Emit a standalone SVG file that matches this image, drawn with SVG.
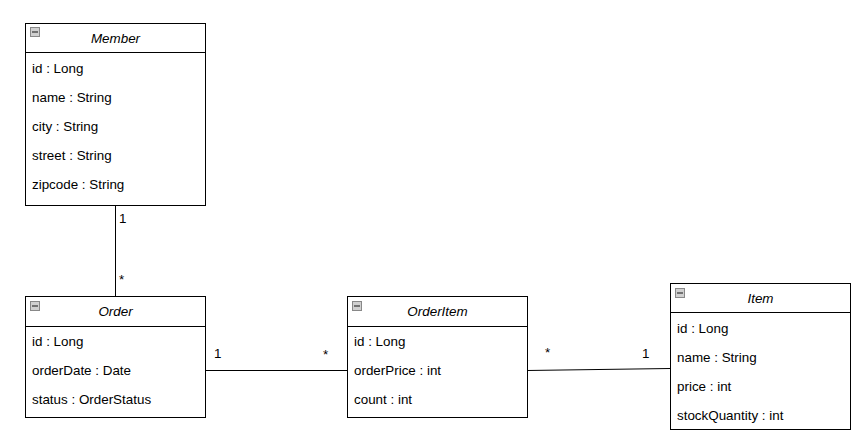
<svg xmlns="http://www.w3.org/2000/svg" width="857" height="447" viewBox="0 0 857 447">
<style>
.box{fill:#fff;stroke:#000;stroke-width:1}
.sep{stroke:#000;stroke-width:1}
.title{font-family:"Liberation Sans",Arial,sans-serif;font-size:13.4px;font-style:italic;text-anchor:middle;fill:#000}
.attr{font-family:"Liberation Sans",Arial,sans-serif;font-size:13.4px;fill:#000}
.lbl{font-family:"Liberation Sans",Arial,sans-serif;font-size:13.4px;fill:#000}
.conn{stroke:#000;stroke-width:1;fill:none}
</style>
<defs>
<g id="collapse">
<rect x="0.5" y="0.5" width="9" height="9" fill="#d0d0d0" stroke="#888"/>
<line x1="2" y1="5" x2="8" y2="5" stroke="#333" stroke-width="1.2"/>
</g>
</defs>
<rect width="857" height="447" fill="#fff"/>
<g id="connectors">
<line class="conn" x1="115.5" y1="205" x2="115.5" y2="296"/>
<line class="conn" x1="205" y1="370.5" x2="347" y2="370.5"/>
<line class="conn" x1="527" y1="370.5" x2="670" y2="368.5"/>
<text class="lbl" x="119" y="223">1</text>
<text class="lbl" x="119" y="284">*</text>
<text class="lbl" x="214" y="358">1</text>
<text class="lbl" x="323" y="359">*</text>
<text class="lbl" x="545" y="357">*</text>
<text class="lbl" x="642" y="358">1</text>
</g>
<g id="Member">
<rect class="box" x="25.5" y="23.5" width="180" height="182"/>
<line class="sep" x1="25.5" y1="52.5" x2="205.5" y2="52.5"/>
<use href="#collapse" x="30" y="27"/>
<text class="title" x="115.5" y="43">Member</text>
<text class="attr" x="32" y="73">id : Long</text>
<text class="attr" x="32" y="102">name : String</text>
<text class="attr" x="32" y="131">city : String</text>
<text class="attr" x="32" y="160">street  : String</text>
<text class="attr" x="32" y="189">zipcode : String</text>
</g>
<g id="Order">
<rect class="box" x="25.5" y="296.5" width="180" height="121"/>
<line class="sep" x1="25.5" y1="326.5" x2="205.5" y2="326.5"/>
<use href="#collapse" x="30" y="301"/>
<text class="title" x="115.5" y="316">Order</text>
<text class="attr" x="32" y="346">id : Long</text>
<text class="attr" x="32" y="375">orderDate : Date</text>
<text class="attr" x="32" y="404">status : OrderStatus</text>
</g>
<g id="OrderItem">
<rect class="box" x="347.5" y="296.5" width="180" height="121"/>
<line class="sep" x1="347.5" y1="326.5" x2="527.5" y2="326.5"/>
<use href="#collapse" x="352" y="301"/>
<text class="title" x="437.5" y="316">OrderItem</text>
<text class="attr" x="354" y="346">id : Long</text>
<text class="attr" x="354" y="375">orderPrice : int</text>
<text class="attr" x="354" y="404">count : int</text>
</g>
<g id="Item">
<rect class="box" x="670.5" y="283.5" width="180" height="146"/>
<line class="sep" x1="670.5" y1="312.5" x2="850.5" y2="312.5"/>
<use href="#collapse" x="675" y="288"/>
<text class="title" x="760.5" y="303">Item</text>
<text class="attr" x="677" y="333">id : Long</text>
<text class="attr" x="677" y="362">name : String</text>
<text class="attr" x="677" y="391">price : int</text>
<text class="attr" x="677" y="420">stockQuantity : int</text>
</g>
</svg>
